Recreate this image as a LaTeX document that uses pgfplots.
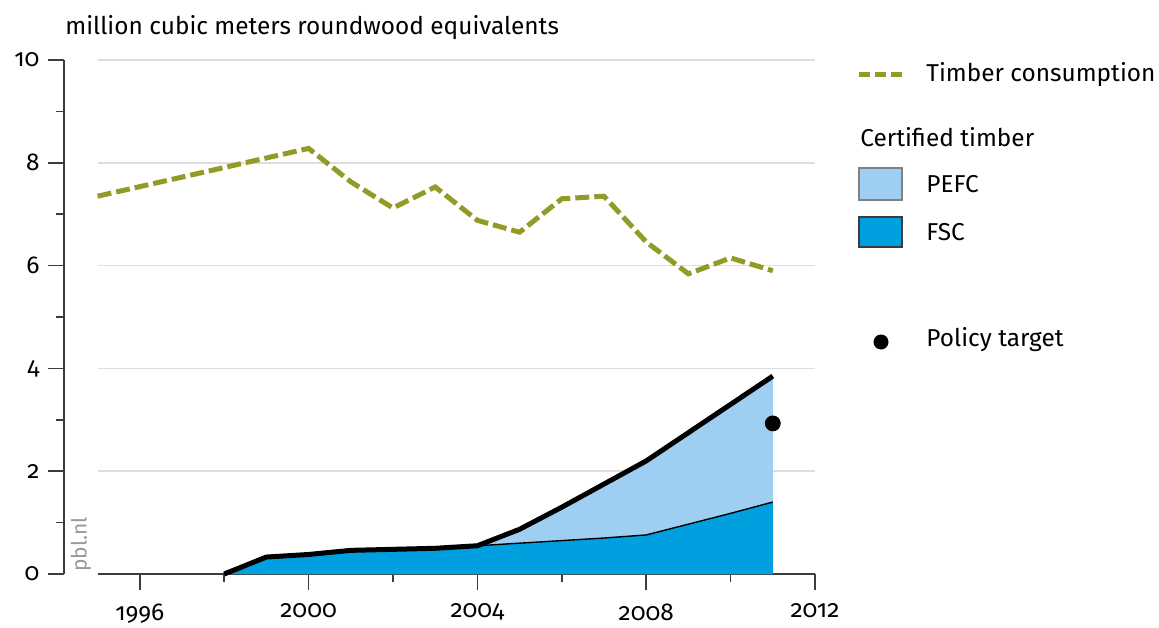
\documentclass[border=0pt]{standalone}
\usepackage{fontspec}
\setmainfont{Fira Sans}[Numbers=OldStyle]
\usepackage{pgfplots}
\pgfplotsset{compat=1.18}
\usepackage{pgfplotstable}

\definecolor{timberolive}{RGB}{147,155,40}
\definecolor{pefcblue}{RGB}{158,207,242}
\definecolor{fscblue}{RGB}{0,159,223}
\definecolor{gridgray}{RGB}{222,222,222}
\definecolor{axisgray}{RGB}{60,60,60}

% certified timber, million m3 roundwood equivalents
\pgfplotstableread{
year fsc  pefc
1998 0.00 0.00
1999 0.33 0.00
2000 0.38 0.00
2001 0.46 0.00
2002 0.48 0.00
2003 0.50 0.00
2004 0.55 0.00
2005 0.60 0.27
2006 0.65 0.65
2007 0.70 1.05
2008 0.76 1.44
2009 0.97 1.78
2010 1.18 2.12
2011 1.40 2.45
}\certified

\pgfplotstableread{
year cons
1995 7.35
2000 8.28
2001 7.63
2002 7.12
2003 7.53
2004 6.88
2005 6.65
2006 7.30
2007 7.35
2008 6.46
2009 5.84
2010 6.15
2011 5.90
}\consumption

\begin{document}
\fontsize{12.2}{15}\selectfont
\begin{tikzpicture}
\path[use as bounding box] (-48.8pt,-26.5pt) rectangle (530.7pt,287pt);
\begin{axis}[
    at={(0,0)}, anchor=south west,
    scale only axis,
    width=358.7pt, height=257pt,
    xmin=1995, xmax=2012,
    ymin=0, ymax=10,
    axis x line*=bottom,
    axis y line*=left,
    axis y line shift=16.8pt,
    axis line style={axisgray, line width=1pt, -},
    xtick={1996,2000,2004,2008,2012},
    minor xtick={1998,2002,2006,2010},
    ytick={0,2,4,6,8,10},
    minor ytick={1,3,5,7,9},
    tick align=outside,
    major tick length=8pt,
    minor tick length=4pt,
    tick style={axisgray, line width=0.8pt},
    ymajorgrids,
    major grid style={gridgray, line width=0.8pt},
    /pgf/number format/1000 sep={},
    /pgf/number format/assume math mode=true,
    tick label style={font=\fontsize{12.2}{15}\selectfont},
    xticklabel style={yshift=-2.5pt},
    clip=false,
]
% PEFC on top of FSC (area up to the total)
\addplot[draw=none, fill=pefcblue]
    table[x=year, y expr=\thisrow{fsc}+\thisrow{pefc}] {\certified} \closedcycle;
\addplot[draw=none, fill=fscblue]
    table[x=year, y=fsc] {\certified} \closedcycle;
\addplot[black, line width=0.7pt] table[x=year, y=fsc] {\certified};
\addplot[black, line width=2.5pt, line join=round]
    table[x=year, y expr=\thisrow{fsc}+\thisrow{pefc}] {\certified};
% timber consumption
\addplot[timberolive, line width=2.5pt, dash pattern=on 7pt off 2.5pt]
    table[x=year, y=cons] {\consumption};
% policy target
\addplot[only marks, mark=*, mark size=3.75pt, black] coordinates {(2011,2.93)};
\end{axis}

% title and watermark
\node[anchor=base west, inner sep=0pt] at (-16.3pt,269.5pt)
    {million cubic meters roundwood equivalents};
\node[rotate=90, anchor=south west, inner sep=0pt, text=gray!80,
      font=\fontsize{10.5}{12}\selectfont] at (-3pt,1pt) {pbl.nl};

% legend
\draw[timberolive, line width=2.5pt, dash pattern=on 5.5pt off 2.5pt]
    (380.7pt,249.5pt) -- (402.2pt,249.5pt);
\node[anchor=west, inner sep=0pt] at (414.2pt,249.5pt) {Timber consumption};
\node[anchor=west, inner sep=0pt] at (381.2pt,218.5pt) {Certified timber};
\draw[gray, fill=pefcblue, line width=0.8pt] (380.7pt,187pt) rectangle (402.2pt,203pt);
\node[anchor=west, inner sep=0pt] at (414.2pt,195pt) {PEFC};
\draw[axisgray, fill=fscblue, line width=0.8pt] (380.7pt,163.5pt) rectangle (402.2pt,178.5pt);
\node[anchor=west, inner sep=0pt] at (414.2pt,171pt) {FSC};
\fill[black] (391.7pt,116pt) circle (3.75pt);
\node[anchor=west, inner sep=0pt] at (414.2pt,117pt) {Policy target};
\end{tikzpicture}
\end{document}
